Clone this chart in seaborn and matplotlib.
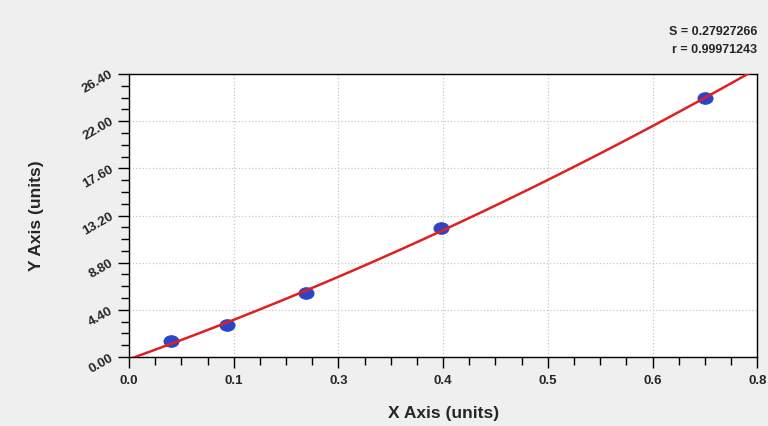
import numpy as np
import pandas as pd
import matplotlib
matplotlib.use("Agg")
import matplotlib.pyplot as plt
from matplotlib.markers import MarkerStyle
from matplotlib.transforms import Affine2D
from matplotlib.ticker import AutoMinorLocator
import seaborn as sns

# Puntos de calibracion
x_vals = [0.052, 0.122, 0.220, 0.3875, 0.7155]
y_vals = [1.49, 2.99, 5.97, 12.03, 24.16]

# Ejes
x_max = 0.78
x_tick_labels = ["0.0", "0.1", "0.3", "0.4", "0.5", "0.6", "0.8"]
y_ticks = [0.0, 4.4, 8.8, 13.2, 17.6, 22.0, 26.4]

stats_lines = ["S = 0.27927266", "r = 0.99971243"]

df = pd.DataFrame({"x": x_vals, "y": y_vals})

sns.set_style("white")
plt.rcParams["font.family"] = ["Liberation Sans", "DejaVu Sans"]
plt.rcParams["font.weight"] = "bold"

fig = plt.figure(figsize=(7.68, 4.26), dpi=100, facecolor="#efefef")
ax = fig.add_axes([0.168, 0.162, 0.818, 0.664])
ax.set_facecolor("white")

ax.set_xlim(0, x_max)
ax.set_ylim(0, y_ticks[-1])

# Curva de ajuste (cuadratica) y puntos
sns.regplot(data=df, x="x", y="y", order=2, ci=None, truncate=False,
            scatter=False, ax=ax, line_kws={"color": "#e02020", "lw": 1.8, "zorder": 3})
marker = MarkerStyle("o", transform=Affine2D().scale(1.3, 1.0))
sns.scatterplot(data=df, x="x", y="y", ax=ax, marker=marker, s=70,
                color="#2a45c8", edgecolor="#2a45c8", zorder=2)

ax.set_xlim(0, x_max)
ax.set_ylim(0, y_ticks[-1])

ax.set_xticks(np.linspace(0, x_max, len(x_tick_labels)))
ax.set_xticklabels(x_tick_labels)
ax.set_yticks(y_ticks)
ax.set_yticklabels([f"{v:.2f}" for v in y_ticks], rotation=30, ha="right", va="center",
                   rotation_mode="anchor")
ax.xaxis.set_minor_locator(AutoMinorLocator(4))
ax.yaxis.set_minor_locator(AutoMinorLocator(4))

ax.tick_params(axis="both", which="both", bottom=True, left=True, direction="out",
               color="black", width=1)
ax.tick_params(axis="both", which="major", length=8, labelsize=9.5, pad=4)
ax.tick_params(axis="both", which="minor", length=6)
ax.tick_params(axis="x", which="major", pad=5)

for sp in ax.spines.values():
    sp.set_color("black")
    sp.set_linewidth(1)
    sp.set_visible(True)

ax.grid(True, which="major", linestyle=":", color="#c8c8c8", linewidth=0.9)

ax.set_xlabel("X Axis (units)", fontsize=12.5, fontweight="bold", labelpad=14)
ax.set_ylabel("Y Axis (units)", fontsize=12.5, fontweight="bold", labelpad=26)

fig.text(0.986, 0.925, stats_lines[0], ha="right", va="center", fontsize=9, fontweight="bold")
fig.text(0.986, 0.883, stats_lines[1], ha="right", va="center", fontsize=9, fontweight="bold")

fig.savefig("out.png", dpi=100, facecolor=fig.get_facecolor())
